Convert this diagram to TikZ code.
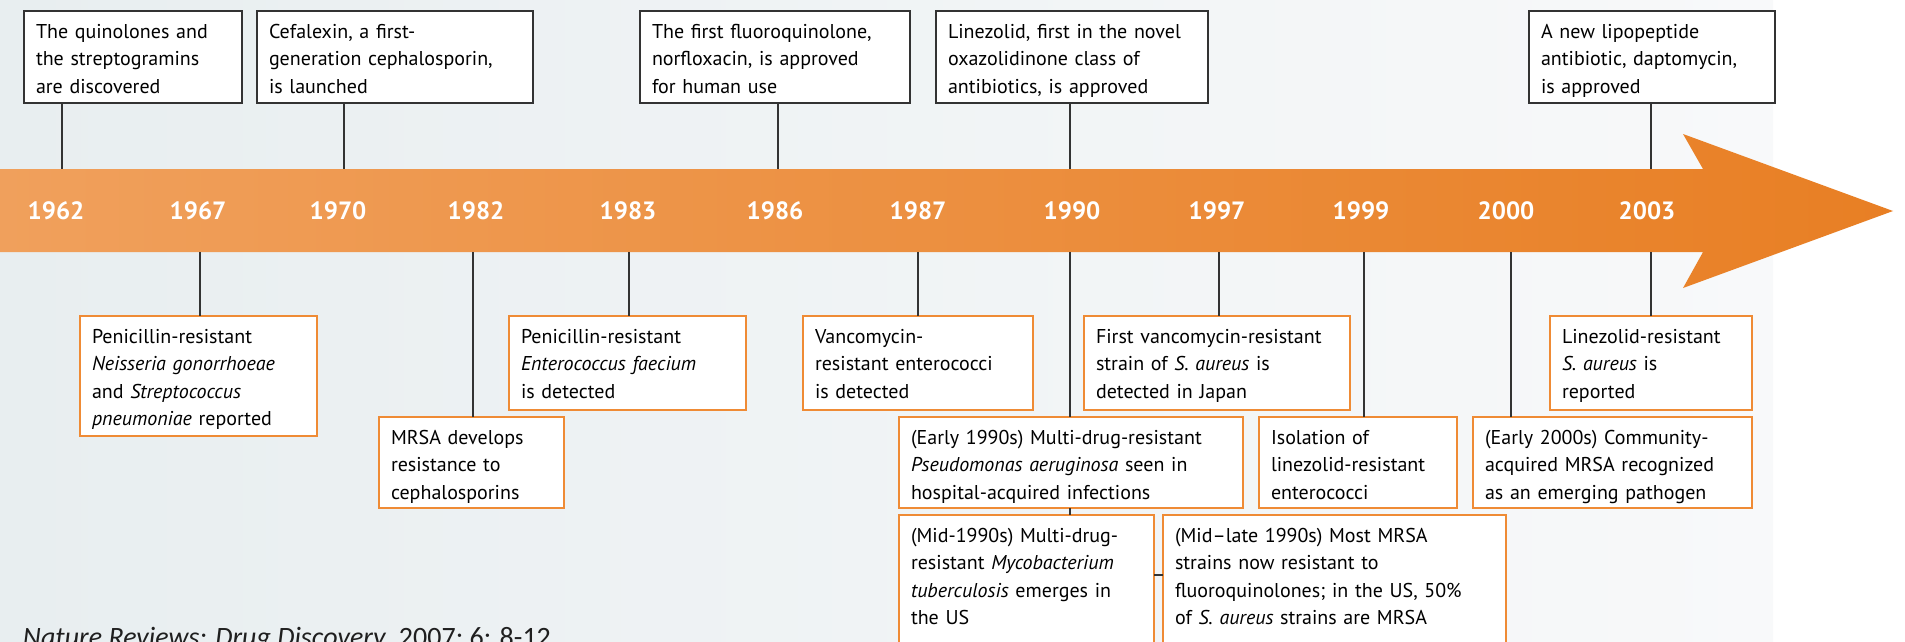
\documentclass[tikz,border=0pt]{standalone}
\usepackage{fontspec}
\setmainfont{PT Sans}
\newfontfamily\citefont{Carlito}
\definecolor{bgL}{HTML}{E8EEF0}
\definecolor{bgR}{HTML}{F8F9FA}
\definecolor{bandL}{HTML}{F0A05C}
\definecolor{bandR}{HTML}{E87F24}
\definecolor{boxgray}{HTML}{333333}
\definecolor{boxorange}{HTML}{EF8B35}
\definecolor{linegray}{HTML}{333333}
\begin{document}
\begin{tikzpicture}[x=1pt,y=-1pt,
  every node/.style={inner sep=0pt,outer sep=0pt},
  topbox/.style={draw=boxgray,line width=2pt,fill=white,anchor=north west,
    inner xsep=12pt,inner ysep=0pt,align=left,text height=27pt,
    font=\fontsize{20}{27.5}\selectfont},
  lowbox/.style={topbox,draw=boxorange,line width=2.5pt},
  wd/.style={text width=#1pt},
  dp/.style={text depth=#1pt},
  year/.style={text=white,font=\bfseries\fontsize{25}{30}\selectfont},
  link/.style={draw=linegray,line width=2pt}]
\useasboundingbox (0,0) rectangle (1905,641);
\clip (0,0) rectangle (1905,641);

% background
\fill[white] (0,0) rectangle (1905,641);
\fill[left color=bgL,right color=bgR] (0,0) rectangle (1773,641);

% timeline arrow
\shade[left color=bandL,right color=bandR]
  (0,169) -- (1703,169) -- (1683,134) -- (1893,211) -- (1683,288)
  -- (1703,252) -- (0,252) -- cycle;
\coordinate (bandN) at (0,169);
\coordinate (bandS) at (0,252);

% years
\node[year] (y1962) at (56,211) {1962};
\node[year] (y1967) at (198,211) {1967};
\node[year] (y1970) at (338,211) {1970};
\node[year] (y1982) at (476,211) {1982};
\node[year] (y1983) at (628,211) {1983};
\node[year] (y1986) at (775,211) {1986};
\node[year] (y1987) at (918,211) {1987};
\node[year] (y1990) at (1072,211) {1990};
\node[year] (y1997) at (1217,211) {1997};
\node[year] (y1999) at (1361,211) {1999};
\node[year] (y2000) at (1506,211) {2000};
\node[year] (y2003) at (1647,211) {2003};

% tick positions
\coordinate (x1962) at (62,0);
\coordinate (x1967) at (200,0);
\coordinate (x1970) at (344,0);
\coordinate (x1982) at (473,0);
\coordinate (x1983) at (629,0);
\coordinate (x1986) at (778,0);
\coordinate (x1987) at (918,0);
\coordinate (x1990) at (1070,0);
\coordinate (x1997) at (1219,0);
\coordinate (x1999) at (1364,0);
\coordinate (x2000) at (1511,0);
\coordinate (x2003) at (1651,0);

% events above the timeline
\node[topbox,wd=194,dp=65] (t1962) at (24,11)
  {The quinolones and\\the streptogramins\\are discovered};
\node[topbox,wd=252,dp=65] (t1970) at (257,11)
  {Cefalexin, a first-\\generation cephalosporin,\\is launched};
\node[topbox,wd=246,dp=65] (t1986) at (640,11)
  {The first fluoroquinolone,\\norfloxacin, is approved\\for human use};
\node[topbox,wd=248,dp=65] (t1990) at (936,11)
  {Linezolid, first in the novel\\oxazolidinone class of\\antibiotics, is approved};
\node[topbox,wd=222,dp=65] (t2003) at (1529,11)
  {A new lipopeptide\\antibiotic, daptomycin,\\is approved};

% events below the timeline
\node[lowbox,wd=213,dp=93] (b1967) at (80,316)
  {Penicillin-resistant\\\textit{Neisseria gonorrhoeae}\\and \textit{Streptococcus}\\\textit{pneumoniae} reported};
\node[lowbox,wd=213,dp=67] (b1983) at (509,316)
  {Penicillin-resistant\\\textit{Enterococcus faecium}\\is detected};
\node[lowbox,wd=206,dp=67] (b1987) at (803,316)
  {Vancomycin-\\resistant enterococci\\is detected};
\node[lowbox,wd=242,dp=67] (b1997) at (1084,316)
  {First vancomycin-resistant\\strain of \textit{S. aureus} is\\detected in Japan};
\node[lowbox,wd=178,dp=67] (b2003) at (1550,316)
  {Linezolid-resistant\\\textit{S. aureus} is\\reported};
\node[lowbox,wd=161,dp=64] (b1982) at (379,417)
  {MRSA develops\\resistance to\\cephalosporins};
\node[lowbox,wd=320,dp=64] (e1990) at (899,417)
  {(Early 1990s) Multi-drug-resistant\\\textit{Pseudomonas aeruginosa} seen in\\hospital-acquired infections};
\node[lowbox,wd=174,dp=64] (b1999) at (1259,417)
  {Isolation of\\linezolid-resistant\\enterococci};
\node[lowbox,wd=255,dp=64] (b2000) at (1473,417)
  {(Early 2000s) Community-\\acquired MRSA recognized\\as an emerging pathogen};
\node[lowbox,wd=231,dp=140] (m1990) at (899,515)
  {(Mid-1990s) Multi-drug-\\resistant \textit{Mycobacterium}\\\textit{tuberculosis} emerges in\\the US};
\node[lowbox,wd=319,dp=140] (l1990) at (1163,515)
  {(Mid--late 1990s) Most MRSA\\strains now resistant to\\fluoroquinolones; in the US, 50\%\\of \textit{S. aureus} strains are MRSA};

% connectors above
\draw[link] (x1962 |- t1962.south) -- (x1962 |- bandN);
\draw[link] (x1970 |- t1970.south) -- (x1970 |- bandN);
\draw[link] (x1986 |- t1986.south) -- (x1986 |- bandN);
\draw[link] (x1990 |- t1990.south) -- (x1990 |- bandN);
\draw[link] (x2003 |- t2003.south) -- (x2003 |- bandN);

% connectors below
\draw[link] (x1967 |- bandS) -- (x1967 |- b1967.north);
\draw[link] (x1982 |- bandS) -- (x1982 |- b1982.north);
\draw[link] (x1983 |- bandS) -- (x1983 |- b1983.north);
\draw[link] (x1987 |- bandS) -- (x1987 |- b1987.north);
\draw[link] (x1990 |- bandS) -- (x1990 |- e1990.north);
\draw[link] (x1990 |- e1990.south) -- (x1990 |- m1990.north);
\draw[link] (x1997 |- bandS) -- (x1997 |- b1997.north);
\draw[link] (x1999 |- bandS) -- (x1999 |- b1999.north);
\draw[link] (x2000 |- bandS) -- (x2000 |- b2000.north);
\draw[link] (x2003 |- bandS) -- (x2003 |- b2003.north);
\draw[link] (m1990.east |- 0,575) -- (l1990.west |- 0,575);

% source line
\node[anchor=base west,font=\citefont\fontsize{28}{34}\selectfont,text=black!88]
  (cite) at (23,646) {\textit{Nature Reviews: Drug Discovery}, 2007; 6: 8-12};
\end{tikzpicture}
\end{document}
